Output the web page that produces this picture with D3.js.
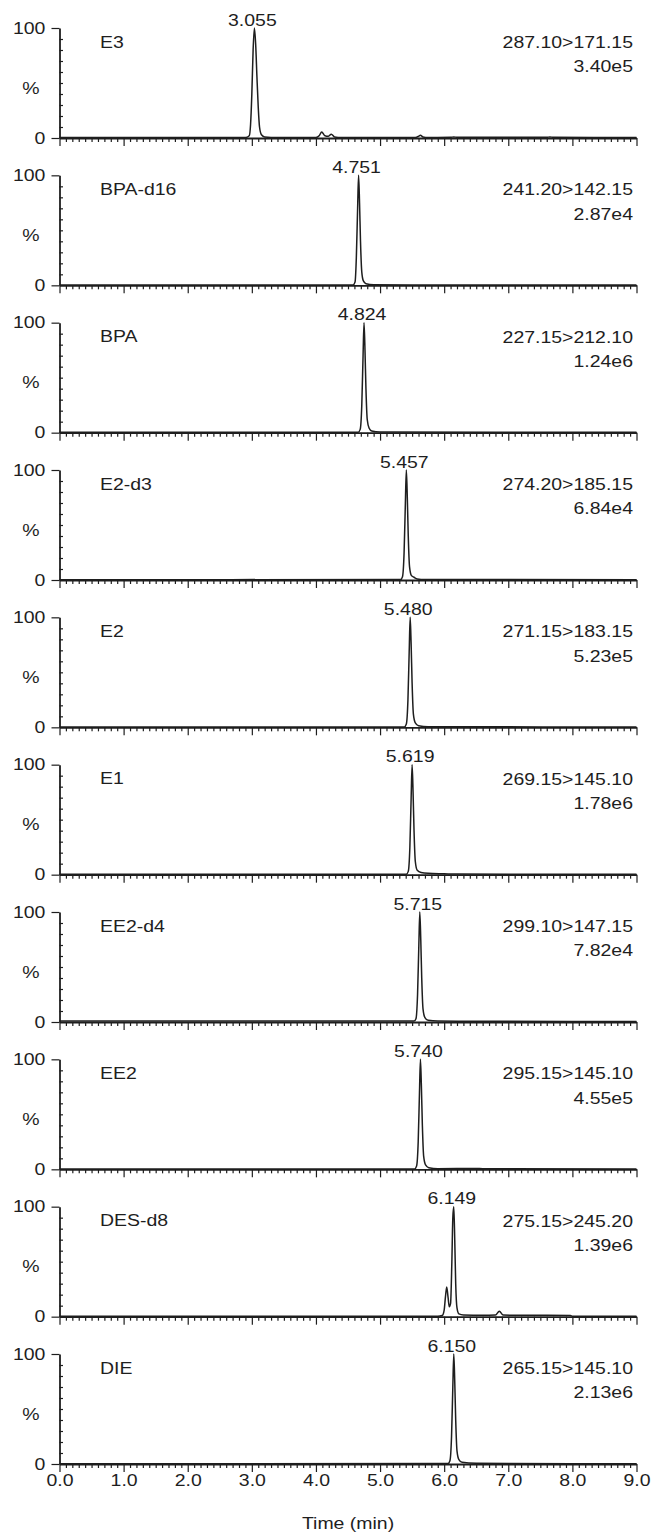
<!DOCTYPE html>
<html>
<head>
<meta charset="utf-8">
<script src="https://cdn.jsdelivr.net/npm/d3@7"></script>
<style>
  body { margin: 0; background: #fff; }
  svg text { font-family: "Liberation Sans", Arial, sans-serif; font-size: 16.5px; fill: #1e1e1e; }
  .trace { fill: none; stroke: #1e1e1e; stroke-width: 1.5; }
  .axis path, .axis line { stroke: #1e1e1e; stroke-width: 1.2; }
  .axis .domain { stroke-width: 1.8; }
</style>
</head>
<body>
<svg id="chart" width="652" height="1536"></svg>
<script>
// compound names, MRM transitions, peak intensities and apex labels, one per panel
const compounds = ['E3', 'BPA-d16', 'BPA', 'E2-d3', 'E2', 'E1', 'EE2-d4', 'EE2', 'DES-d8', 'DIE'];
const transitions = ['287.10>171.15', '241.20>142.15', '227.15>212.10', '274.20>185.15', '271.15>183.15',
                     '269.15>145.10', '299.10>147.15', '295.15>145.10', '275.15>245.20', '265.15>145.10'];
const intensities = ['3.40e5', '2.87e4', '1.24e6', '6.84e4', '5.23e5', '1.78e6', '7.82e4', '4.55e5', '1.39e6', '2.13e6'];
const peakLabels = ['3.055', '4.751', '4.824', '5.457', '5.480', '5.619', '5.715', '5.740', '6.149', '6.150'];

const timeTicks = [0, 1, 2, 3, 4, 5, 6, 7, 8, 9];
const timeTickLabels = ['0.0', '1.0', '2.0', '3.0', '4.0', '5.0', '6.0', '7.0', '8.0', '9.0'];
const pctTicks = [0, 100];
const pctMinorTicks = [10, 20, 30, 40, 50, 60, 70, 80, 90];

// traces: [time (min), relative %]
const traceE3 = [[0, 0.4], [1.5, 0.4], [2.9, 0.4], [2.96, 2], [2.98, 12], [3.0, 40], [3.02, 80], [3.04, 100], [3.06, 85],
  [3.08, 55], [3.1, 28], [3.12, 10], [3.15, 3], [3.2, 1], [3.4, 0.5], [4.0, 0.5], [4.05, 2], [4.09, 5.5], [4.14, 2],
  [4.19, 1.5], [4.24, 3.5], [4.29, 1], [4.4, 0.5], [5.55, 0.5], [5.6, 1.5], [5.63, 2.5], [5.67, 1], [5.75, 0.5],
  [6.1, 0.6], [6.15, 1], [6.2, 0.6], [7.6, 0.6], [7.65, 1], [7.7, 0.6], [9, 0.5]];
const traceBPAd16 = [[0, 0.3], [2, 0.3], [4, 0.3], [4.58, 0.4], [4.61, 3], [4.63, 25], [4.65, 70], [4.665, 100], [4.68, 75],
  [4.695, 40], [4.715, 12], [4.74, 4], [4.78, 1.5], [4.9, 0.6], [5.5, 0.4], [9, 0.3]];
const traceBPA = [[0, 0.3], [4.66, 0.4], [4.69, 3], [4.715, 25], [4.735, 70], [4.75, 100], [4.765, 75], [4.78, 40],
  [4.8, 12], [4.83, 4], [4.87, 1.5], [5.0, 0.6], [9, 0.3]];
const traceE2d3 = [[0, 0.3], [5.32, 0.4], [5.35, 3], [5.375, 25], [5.395, 70], [5.41, 100], [5.425, 75], [5.44, 40],
  [5.46, 12], [5.49, 4], [5.53, 2.5], [5.58, 1], [5.7, 0.5], [9, 0.3]];
const traceE2 = [[0, 0.3], [5.38, 0.4], [5.41, 3], [5.435, 25], [5.455, 70], [5.47, 100], [5.485, 75], [5.5, 40],
  [5.52, 12], [5.55, 4], [5.6, 1.5], [5.75, 0.6], [9, 0.3]];
const traceE1 = [[0, 0.3], [5.41, 0.4], [5.44, 3], [5.465, 25], [5.485, 70], [5.5, 100], [5.515, 75], [5.53, 40],
  [5.55, 12], [5.58, 4], [5.64, 2], [5.75, 1.2], [6.0, 0.8], [6.2, 0.5], [9, 0.3]];
const traceEE2d4 = [[0, 0.8], [1, 0.8], [2, 0.8], [3, 0.8], [4, 0.8], [5, 0.8], [5.53, 0.8], [5.56, 3], [5.585, 25],
  [5.605, 70], [5.62, 100], [5.635, 75], [5.65, 40], [5.67, 12], [5.7, 4], [5.75, 1.5], [5.9, 0.8], [7, 0.6], [9, 0.5]];
const traceEE2 = [[0, 0.3], [5.54, 0.4], [5.57, 3], [5.595, 25], [5.615, 70], [5.63, 100], [5.645, 75], [5.66, 40],
  [5.68, 12], [5.71, 4], [5.76, 1.5], [5.9, 0.6], [6.5, 0.8], [6.6, 0.5], [9, 0.3]];
const traceDESd8 = [[0, 0.3], [5.9, 0.3], [5.97, 1], [6.0, 6], [6.02, 18], [6.04, 27], [6.06, 18], [6.08, 9], [6.1, 12],
  [6.12, 50], [6.135, 90], [6.15, 100], [6.165, 70], [6.18, 30], [6.2, 8], [6.23, 2.5], [6.3, 1.5], [6.6, 1.2],
  [6.8, 1.5], [6.86, 5], [6.92, 1.5], [7.2, 1.2], [7.6, 1.3], [7.97, 1], [8.0, 0.4], [9, 0.3]];
const traceDIE = [[0, 0.3], [6.06, 0.4], [6.09, 3], [6.115, 25], [6.135, 70], [6.15, 100], [6.165, 75], [6.18, 40],
  [6.2, 12], [6.23, 4], [6.28, 1.5], [6.5, 0.6], [7, 0.4], [9, 0.3]];

const traces = [traceE3, traceBPAd16, traceBPA, traceE2d3, traceE2, traceE1, traceEE2d4, traceEE2, traceDESd8, traceDIE];

// layout
const X0 = 59.5, X1 = 636.5;
const PANEL_H = 110, FIRST_ZERO = 138, LAST_ZERO = 1464;
const SX = 1.18; // glyphs in the source are drawn wider than they are tall

const svg = d3.select('#chart');
const x = d3.scaleLinear().domain([0, 9]).range([X0, X1]);
const zeroY = d3.scaleLinear().domain([0, compounds.length - 1]).range([FIRST_ZERO, LAST_ZERO]);

const minorTimes = d3.range(0, 90).filter(d => d % 10 !== 0).map(d => d / 10);

const line = d3.line()
  .x(d => x(d[0]))
  .curve(d3.curveMonotoneX);

function label(g, px, py, str, anchor) {
  g.append('text')
    .attr('transform', `translate(${px},${py}) scale(${SX},1)`)
    .attr('text-anchor', anchor)
    .text(str);
}

compounds.forEach((name, i) => {
  const zero = zeroY(i);
  const y = d3.scaleLinear().domain([0, 100]).range([zero, zero - PANEL_H]);
  const g = svg.append('g').attr('class', 'panel');
  const isLast = i === compounds.length - 1;

  // y axis: labelled 0/100, small ticks inside
  g.append('g')
    .attr('class', 'axis')
    .attr('transform', `translate(${X0},0)`)
    .call(d3.axisLeft(y).tickValues(pctTicks).tickSize(8).tickSizeOuter(0).tickPadding(4))
    .call(a => a.selectAll('text').attr('transform', `scale(${SX},1)`));
  g.append('g')
    .attr('class', 'axis')
    .attr('transform', `translate(${X0},0)`)
    .call(d3.axisRight(y).tickValues(pctMinorTicks).tickSize(3.5).tickFormat(''))
    .call(a => a.select('.domain').remove());

  // x axis
  g.append('g')
    .attr('class', 'axis')
    .attr('transform', `translate(0,${zero})`)
    .call(d3.axisBottom(x).tickValues(minorTimes).tickSize(4).tickFormat(''))
    .call(a => a.select('.domain').remove());
  g.append('g')
    .attr('class', 'axis')
    .attr('transform', `translate(0,${zero})`)
    .call(d3.axisBottom(x).tickValues(timeTicks).tickSize(8).tickSizeOuter(0).tickPadding(2)
      .tickFormat((d, k) => isLast ? timeTickLabels[k] : ''))
    .call(a => a.selectAll('text').attr('transform', `scale(${SX},1)`));

  // trace
  g.append('path')
    .datum(traces[i])
    .attr('class', 'trace')
    .attr('d', line.y(d => y(d[1])));

  // texts
  label(g, 31, zero - PANEL_H + 65.5, '%', 'middle');
  label(g, 100, zero - PANEL_H + 19.5, name, 'start');
  label(g, 633, zero - PANEL_H + 20, transitions[i], 'end');
  label(g, 633, zero - PANEL_H + 44.3, intensities[i], 'end');
  const apex = traces[i].reduce((m, d) => d[1] > m[1] ? d : m);
  label(g, x(apex[0]) - 2, y(apex[1]) - 2.5, peakLabels[i], 'middle');
});

label(svg, (X0 + X1) / 2, 1529, 'Time (min)', 'middle');
</script>
</body>
</html>
